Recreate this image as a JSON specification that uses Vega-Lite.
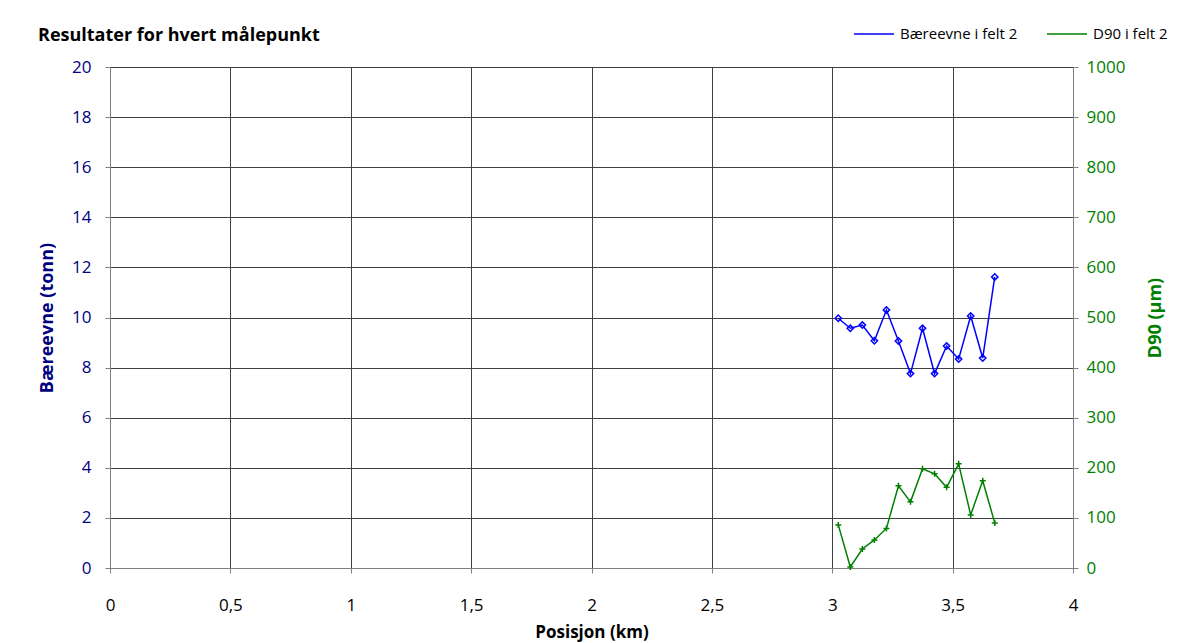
{
  "$schema": "https://vega.github.io/schema/vega-lite/v6.json",
  "autosize": "none",
  "width": 963,
  "height": 501,
  "padding": {"left": 110, "top": 67, "right": 115, "bottom": 75},
  "background": "white",
  "config": {
    "font": "Open Sans",
    "view": {"stroke": "#404040", "strokeWidth": 1}
  },
  "title": {
    "text": "Resultater for hvert målepunkt",
    "anchor": "start",
    "frame": "group",
    "dx": -72,
    "dy": 32,
    "offset": 0,
    "fontSize": 18,
    "fontWeight": "bold",
    "color": "#000000"
  },
  "data": {
    "values": [
      {"pos": 3.025, "serie": "Bæreevne i felt 2", "value": 9.97},
      {"pos": 3.075, "serie": "Bæreevne i felt 2", "value": 9.57},
      {"pos": 3.125, "serie": "Bæreevne i felt 2", "value": 9.70},
      {"pos": 3.175, "serie": "Bæreevne i felt 2", "value": 9.07},
      {"pos": 3.225, "serie": "Bæreevne i felt 2", "value": 10.30},
      {"pos": 3.275, "serie": "Bæreevne i felt 2", "value": 9.06},
      {"pos": 3.325, "serie": "Bæreevne i felt 2", "value": 7.76},
      {"pos": 3.375, "serie": "Bæreevne i felt 2", "value": 9.57},
      {"pos": 3.425, "serie": "Bæreevne i felt 2", "value": 7.76},
      {"pos": 3.475, "serie": "Bæreevne i felt 2", "value": 8.86},
      {"pos": 3.525, "serie": "Bæreevne i felt 2", "value": 8.34},
      {"pos": 3.575, "serie": "Bæreevne i felt 2", "value": 10.06},
      {"pos": 3.625, "serie": "Bæreevne i felt 2", "value": 8.38},
      {"pos": 3.675, "serie": "Bæreevne i felt 2", "value": 11.62},
      {"pos": 3.025, "serie": "D90 i felt 2", "value": 86},
      {"pos": 3.075, "serie": "D90 i felt 2", "value": 2},
      {"pos": 3.125, "serie": "D90 i felt 2", "value": 38},
      {"pos": 3.175, "serie": "D90 i felt 2", "value": 56},
      {"pos": 3.225, "serie": "D90 i felt 2", "value": 79},
      {"pos": 3.275, "serie": "D90 i felt 2", "value": 164},
      {"pos": 3.325, "serie": "D90 i felt 2", "value": 132},
      {"pos": 3.375, "serie": "D90 i felt 2", "value": 198},
      {"pos": 3.425, "serie": "D90 i felt 2", "value": 188},
      {"pos": 3.475, "serie": "D90 i felt 2", "value": 161},
      {"pos": 3.525, "serie": "D90 i felt 2", "value": 208},
      {"pos": 3.575, "serie": "D90 i felt 2", "value": 106},
      {"pos": 3.625, "serie": "D90 i felt 2", "value": 174},
      {"pos": 3.675, "serie": "D90 i felt 2", "value": 90}
    ]
  },
  "encoding": {
    "x": {
      "field": "pos",
      "type": "quantitative",
      "scale": {"domain": [0, 4], "nice": false},
      "axis": {
        "values": [0, 0.5, 1, 1.5, 2, 2.5, 3, 3.5, 4],
        "format": "~g",
        "labelExpr": "replace(datum.label, '.', ',')",
        "labelFlush": false,
        "title": "Posisjon (km)",
        "titleFontSize": 17,
        "titleFontWeight": "bold",
        "titleColor": "#000000",
        "titlePadding": 11,
        "labelFontSize": 17,
        "labelColor": "#000000",
        "labelPadding": 24,
        "tickSize": 5,
        "tickColor": "#808080",
        "domainColor": "#808080",
        "grid": true,
        "gridColor": "#404040",
        "gridOpacity": 1
      }
    }
  },
  "layer": [
    {
      "transform": [{"filter": "datum.serie === 'Bæreevne i felt 2'"}],
      "encoding": {
        "y": {
          "field": "value",
          "type": "quantitative",
          "scale": {"domain": [0, 20], "nice": false},
          "axis": {
            "orient": "left",
            "values": [0, 2, 4, 6, 8, 10, 12, 14, 16, 18, 20],
            "title": "Bæreevne (tonn)",
            "titleFontSize": 18,
            "titleFontWeight": "bold",
            "titleColor": "#000080",
            "titlePadding": 15,
            "labelFontSize": 17,
            "labelColor": "#000080",
            "labelPadding": 14,
            "tickSize": 5,
            "tickColor": "#808080",
            "domainColor": "#808080",
            "grid": true,
            "gridColor": "#404040",
            "gridOpacity": 1
          }
        },
        "color": {
          "field": "serie",
          "type": "nominal",
          "scale": {"domain": ["Bæreevne i felt 2", "D90 i felt 2"], "range": ["#0000ff", "#008000"]},
          "legend": {
            "title": null,
            "orient": "none",
            "direction": "horizontal",
            "legendX": 743,
            "legendY": -54,
            "symbolType": "M-1,0H1",
            "symbolSize": 1600,
            "symbolStrokeWidth": 1.5,
            "labelFontSize": 15,
            "labelColor": "#000000",
            "labelOffset": 5,
            "columnPadding": 26
          }
        }
      },
      "layer": [
        {"mark": {"type": "line", "strokeWidth": 1.5}},
        {"mark": {"type": "point", "shape": "diamond", "filled": false, "size": 40, "strokeWidth": 1.5, "opacity": 1}}
      ]
    },
    {
      "transform": [{"filter": "datum.serie === 'D90 i felt 2'"}],
      "encoding": {
        "y": {
          "field": "value",
          "type": "quantitative",
          "scale": {"domain": [0, 1000], "nice": false},
          "axis": {
            "orient": "right",
            "values": [0, 100, 200, 300, 400, 500, 600, 700, 800, 900, 1000],
            "format": "d",
            "title": "D90 (µm)",
            "titleAngle": 270,
            "titleFontSize": 18,
            "titleFontWeight": "bold",
            "titleColor": "#008000",
            "titlePadding": 40,
            "labelFontSize": 17,
            "labelColor": "#008000",
            "labelPadding": 8,
            "tickSize": 5,
            "tickColor": "#808080",
            "domainColor": "#808080",
            "grid": false
          }
        },
        "color": {"field": "serie", "type": "nominal"}
      },
      "layer": [
        {"mark": {"type": "line", "strokeWidth": 1.5}},
        {"mark": {"type": "point", "shape": "M-1,0H1M0,-1V1", "filled": false, "size": 36, "strokeWidth": 1.5, "opacity": 1}}
      ]
    }
  ],
  "resolve": {"scale": {"y": "independent"}}
}
